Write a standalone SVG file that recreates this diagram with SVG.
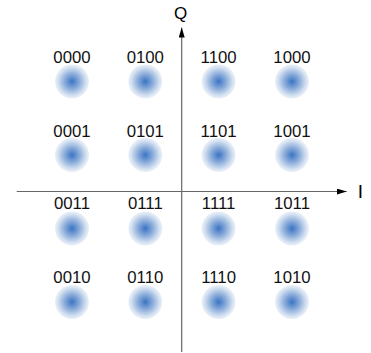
<svg xmlns="http://www.w3.org/2000/svg" width="371" height="353" viewBox="0 0 371 353">
<style>
.lbl{font-family:"Liberation Sans",Arial,sans-serif;font-size:16.8px;fill:#111;text-anchor:middle}
.ax{stroke:#666;stroke-width:1.2;fill:none}
.dot{fill:url(#g)}
</style>
<defs>
<radialGradient id="g" cx="0.5" cy="0.5" r="0.5">
<stop offset="0" stop-color="#3a74c4"/>
<stop offset="0.45" stop-color="#8cadda"/>
<stop offset="0.85" stop-color="#d7e3f2"/>
<stop offset="1" stop-color="#ebf0f8"/>
</radialGradient>
<marker id="ah" viewBox="0 0 10 6" refX="10" refY="3" markerWidth="10" markerHeight="6" markerUnits="userSpaceOnUse" orient="auto">
<path d="M0,0 L10,3 L0,6 Z" fill="#000"/>
</marker>
</defs>
<g id="axes">
<line class="ax" x1="16.7" y1="191.5" x2="346.7" y2="191.5" marker-end="url(#ah)"/>
<line class="ax" x1="181.7" y1="352" x2="181.7" y2="27.5" marker-end="url(#ah)"/>
<text x="180.5" y="19" style="font-family:'Liberation Sans',Arial,sans-serif;font-size:17px;fill:#000;text-anchor:middle">Q</text>
<text x="360.5" y="198.3" style="font-family:'Liberation Sans',Arial,sans-serif;font-size:19px;fill:#000;text-anchor:middle">I</text>
</g>
<g id="n0000"><circle class="dot" cx="72" cy="81.5" r="17"/><text class="lbl" x="72" y="63.3">0000</text></g>
<g id="n0100"><circle class="dot" cx="145.3" cy="81.5" r="17"/><text class="lbl" x="145.3" y="63.3">0100</text></g>
<g id="n1100"><circle class="dot" cx="218.6" cy="81.5" r="17"/><text class="lbl" x="218.6" y="63.3">1100</text></g>
<g id="n1000"><circle class="dot" cx="292" cy="81.5" r="17"/><text class="lbl" x="292" y="63.3">1000</text></g>
<g id="n0001"><circle class="dot" cx="72" cy="155" r="17"/><text class="lbl" x="72" y="136.5">0001</text></g>
<g id="n0101"><circle class="dot" cx="145.3" cy="155" r="17"/><text class="lbl" x="145.3" y="136.5">0101</text></g>
<g id="n1101"><circle class="dot" cx="218.6" cy="155" r="17"/><text class="lbl" x="218.6" y="136.5">1101</text></g>
<g id="n1001"><circle class="dot" cx="292" cy="155" r="17"/><text class="lbl" x="292" y="136.5">1001</text></g>
<g id="n0011"><circle class="dot" cx="72" cy="228.5" r="17"/><text class="lbl" x="72" y="209">0011</text></g>
<g id="n0111"><circle class="dot" cx="145.3" cy="228.5" r="17"/><text class="lbl" x="145.3" y="209">0111</text></g>
<g id="n1111"><circle class="dot" cx="218.6" cy="228.5" r="17"/><text class="lbl" x="218.6" y="209">1111</text></g>
<g id="n1011"><circle class="dot" cx="292" cy="228.5" r="17"/><text class="lbl" x="292" y="209">1011</text></g>
<g id="n0010"><circle class="dot" cx="72" cy="302" r="17"/><text class="lbl" x="72" y="282.5">0010</text></g>
<g id="n0110"><circle class="dot" cx="145.3" cy="302" r="17"/><text class="lbl" x="145.3" y="282.5">0110</text></g>
<g id="n1110"><circle class="dot" cx="218.6" cy="302" r="17"/><text class="lbl" x="218.6" y="282.5">1110</text></g>
<g id="n1010"><circle class="dot" cx="292" cy="302" r="17"/><text class="lbl" x="292" y="282.5">1010</text></g>
</svg>
